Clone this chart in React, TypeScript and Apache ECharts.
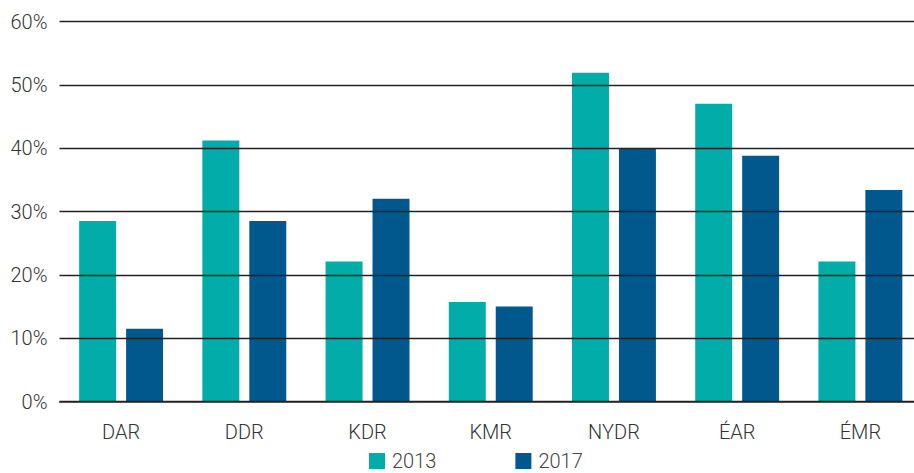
import React, { useEffect, useRef } from "react";
import * as echarts from "echarts";

const categories = ["DAR", "DDR", "KDR", "KMR", "NYDR", "ÉAR", "ÉMR"];
const values2013 = [28.5, 41.2, 22.1, 15.7, 51.9, 47.0, 22.1];
const values2017 = [11.5, 28.5, 32.0, 15.0, 40.0, 38.8, 33.4];
const seriesNames = ["2013", "2017"];
const colors = ["#02aca8", "#01588c"];

export default function App() {
  const ref = useRef<HTMLDivElement>(null);
  useEffect(() => {
    if (!ref.current) return;
    const chart = echarts.init(ref.current, undefined, { renderer: "svg" });
    chart.setOption({
      animation: false,
      textStyle: { fontFamily: "Roboto" },
      grid: { left: 59.5, right: -8, top: 21.5, bottom: 71.5, containLabel: false },
      legend: {
        data: seriesNames,
        left: 369,
        top: 450,
        padding: 0,
        itemWidth: 16,
        itemHeight: 16,
        itemGap: 79,
        icon: "rect",
        textStyle: { fontSize: 20, lineHeight: 22, color: "#444", fontFamily: "Roboto", fontWeight: 300, padding: [0, 0, 0, 2] },
      },
      xAxis: {
        type: "category",
        data: categories,
        axisLine: { lineStyle: { color: "#333", width: 1.5 } },
        axisTick: { show: false },
        axisLabel: { fontSize: 20, color: "#333", fontFamily: "Roboto", fontWeight: 300, margin: 20 },
      },
      yAxis: {
        type: "value",
        min: 0,
        max: 60,
        interval: 10,
        z: 5,
        axisLine: { show: false },
        axisTick: { show: false },
        axisLabel: { formatter: "{value}%", fontSize: 20, color: "#333", fontFamily: "Roboto", fontWeight: 300, margin: 12 },
        splitLine: { lineStyle: { color: "#222", width: 1.3 } },
      },
      series: [
        { name: seriesNames[0], type: "bar", data: values2013, barWidth: "30%", barGap: "27%", itemStyle: { color: colors[0] } },
        { name: seriesNames[1], type: "bar", data: values2017, barWidth: "30%", barGap: "27%", itemStyle: { color: colors[1] } },
      ],
    });
    return () => chart.dispose();
  }, []);
  return (
    <div style={{ width: 914, height: 473, position: "absolute", left: 0, top: 0, overflow: "hidden" }}>
      <div ref={ref} style={{ width: 922, height: 473 }} />
    </div>
  );
}
